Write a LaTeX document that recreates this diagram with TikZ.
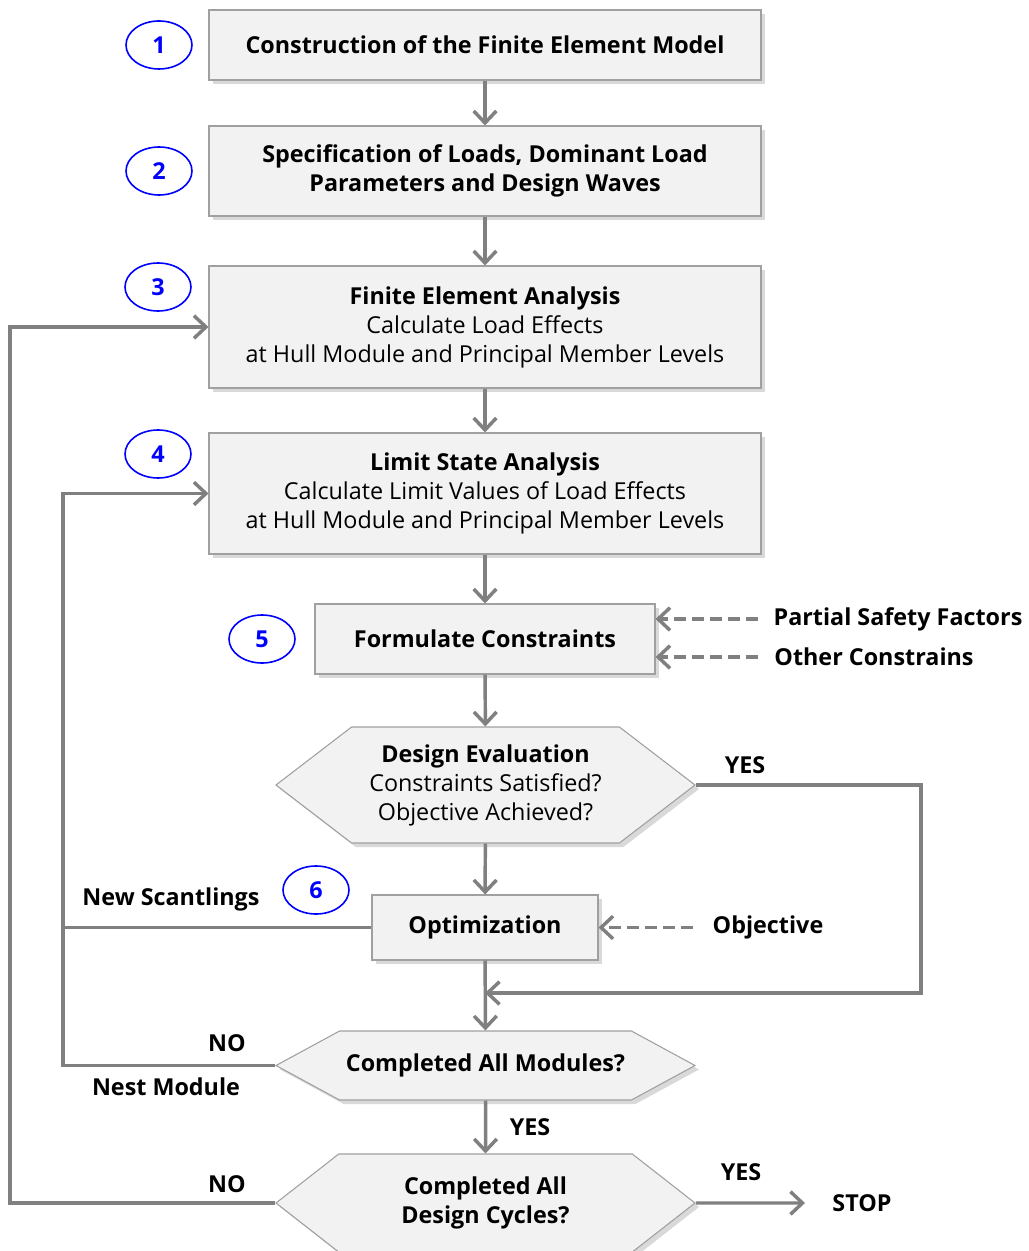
\documentclass[tikz,border=0pt]{standalone}
\usepackage{fontspec}
\setmainfont{Open Sans}
\usetikzlibrary{arrows.meta,shapes.geometric,shapes.symbols,shadows}
\definecolor{boxfill}{HTML}{F2F2F2}
\definecolor{boxline}{HTML}{A0A0A0}
\definecolor{flowgray}{HTML}{808080}
\definecolor{stepblue}{HTML}{0000FF}
\begin{document}
\begin{tikzpicture}[x=0.75pt,y=-0.75pt,>={Straight Barb[length=9pt,width=17pt]},
            box node/.style={rectangle,draw=boxline,fill=boxfill,line width=0.8pt,align=center,inner sep=0pt,font=\fontsize{17.5}{21.75}\selectfont,drop shadow={shadow xshift=3pt,shadow yshift=-3pt,opacity=0.3}},
            hex node/.style={box node,signal,signal to=west and east},
            num node/.style={ellipse,draw=stepblue,line width=1.2pt,text=stepblue,inner sep=0pt,minimum width=49.5pt,minimum height=36pt,font=\bfseries\fontsize{17.5}{20}\selectfont},
            flow/.style={draw=flowgray,line width=2.6pt},
            hint/.style={flow,dash pattern=on 9pt off 4.5pt},
            label node/.style={font=\bfseries\fontsize{17.5}{20}\selectfont}]
            \useasboundingbox (0,0) rectangle (1028,1251);

            \node[box node,minimum width=414pt,minimum height=52.5pt] at (485, 45) (fem) {\textbf{Construction of the Finite Element Model}};
            \node[box node,minimum width=414pt,minimum height=67.5pt] at (485, 171) (loads) {\textbf{Specification of Loads, Dominant Load}\\\textbf{Parameters and Design Waves}};
            \node[box node,minimum width=414pt,minimum height=91.5pt] at (485, 327) (fea) {\textbf{Finite Element Analysis}\\Calculate Load Effects\\at Hull Module and Principal Member Levels};
            \node[box node,minimum width=414pt,minimum height=90.75pt] at (485, 493.5) (lsa) {\textbf{Limit State Analysis}\\Calculate Limit Values of Load Effects\\at Hull Module and Principal Member Levels};
            \node[box node,minimum width=255pt,minimum height=52.5pt] at (485, 639) (cons) {\textbf{Formulate Constraints}};
            \node[hex node,signal pointer angle=75,minimum width=314.25pt,minimum height=87pt] at (485.5, 785) (eval) {\textbf{Design Evaluation}\\Constraints Satisfied?\\Objective Achieved?};
            \node[box node,minimum width=169.5pt,minimum height=48.75pt] at (485, 927.5) (opt) {\textbf{Optimization}};
            \node[hex node,signal pointer angle=57,minimum width=314.25pt,minimum height=51.75pt] at (485.5, 1065.5) (modules) {\textbf{Completed All Modules?}};
            \node[hex node,signal pointer angle=76,minimum width=314.25pt,minimum height=73.5pt] at (485.5, 1203) (cycles) {\textbf{Completed All}\\\textbf{Design Cycles?}};

            \node[num node] at (159, 45) (n1) {1};
            \node[num node] at (159, 171) (n2) {2};
            \node[num node] at (158, 287) (n3) {3};
            \node[num node] at (158, 454) (n4) {4};
            \node[num node] at (262, 639) (n5) {5};
            \node[num node] at (316, 890) (n6) {6};

            \node[label node] at (898, 619) (psf) {Partial Safety Factors};
            \node[label node] at (874, 657) (other) {Other Constrains};
            \node[label node] at (768, 927) (obj) {Objective};
            \node[label node] at (862, 1203) (stop) {STOP};
            \node[label node] at (745, 765) (yes eval) {YES};
            \node[label node] at (530, 1127) (yes modules) {YES};
            \node[label node] at (741, 1172) (yes cycles) {YES};
            \node[label node] at (227, 1043) (no modules) {NO};
            \node[label node] at (166, 1087) (nest) {Nest Module};
            \node[label node] at (227, 1184) (no cycles) {NO};
            \node[label node] at (171, 899) (scant) {New Scantlings};

            \coordinate (psf in) at (758, 619);
            \coordinate (other in) at (758, 657);
            \coordinate (obj in) at (693, 927.5);
            \coordinate (outer) at (10, 1203);
            \coordinate (inner) at (63, 1065.5);
            \coordinate (yes right) at (921, 785);
            \coordinate (merge) at (485, 993);
            \coordinate (stop in) at (805, 1203);

            \path[flow] (fem) edge[->] (loads)
                (loads) edge[->] (fea)
                (fea) edge[->] (lsa)
                (lsa) edge[->] (cons)
                (cons) edge[->] (eval)
                (eval) edge[->] (opt)
                (opt) edge[->] (modules)
                (modules) edge[->] (cycles)
                (cycles) edge[->] (stop in);

            \path[hint] (psf in) edge[->] (cons.east |- psf in)
                (other in) edge[->] (cons.east |- other in)
                (obj in) edge[->] (opt.east |- obj in);

            \draw[flow,->] (eval.east) -- (yes right) |- (merge);
            \draw[flow,->] (modules.west) -- (inner) |- (lsa.west);
            \draw[flow] (opt.west) -- (opt.west -| inner);
            \draw[flow,->] (cycles.west) -- (outer) |- (fea.west);
        \end{tikzpicture}
\end{document}
